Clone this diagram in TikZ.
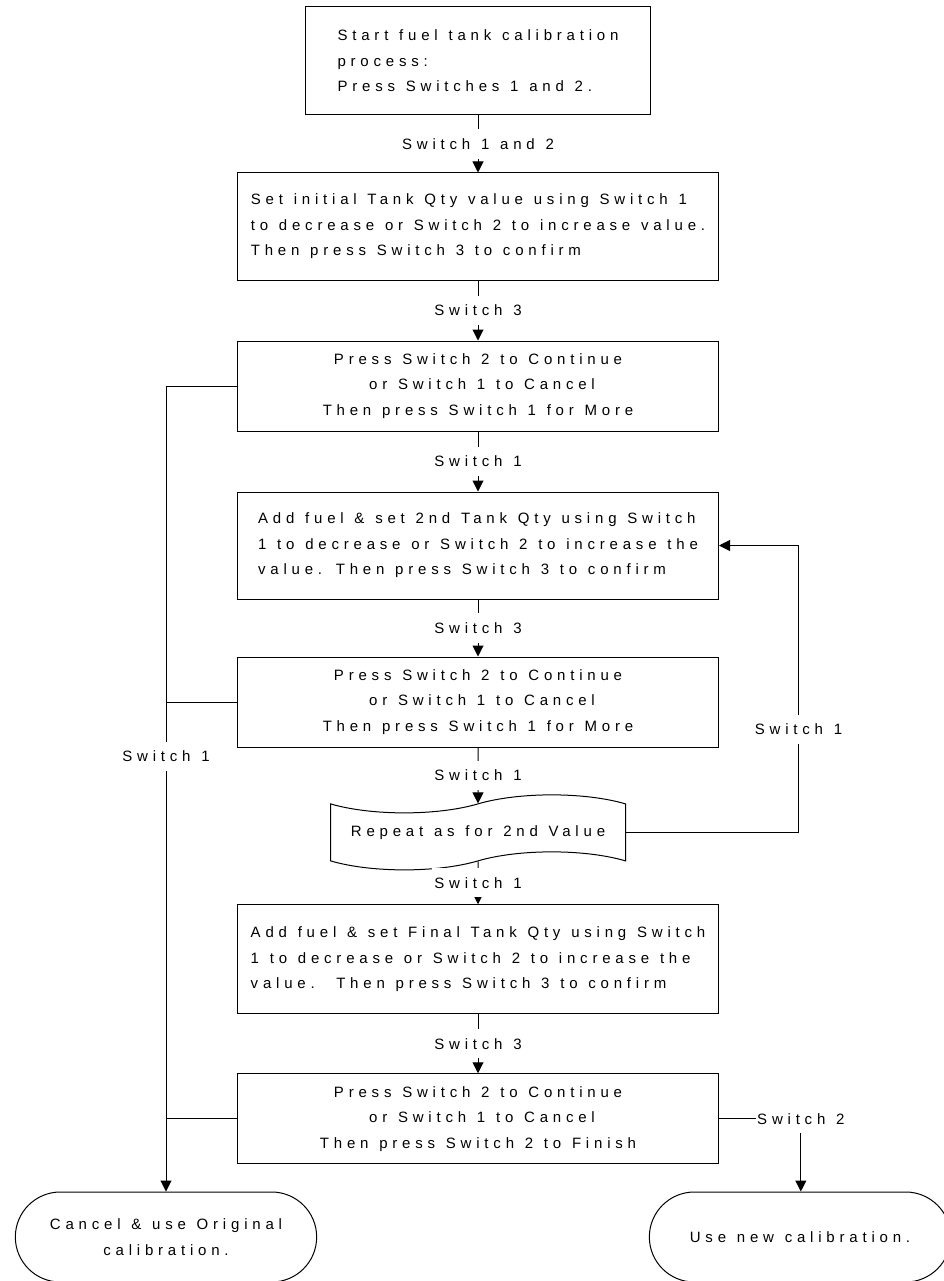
\documentclass[tikz,border=0pt]{standalone}
\usepackage{fontspec}
\setmainfont{Liberation Sans}[LetterSpace=32, WordSpace=1.2]
\usepackage{tikz}
\usetikzlibrary{positioning}
\usetikzlibrary{arrows.meta}
\usetikzlibrary{shapes.symbols}
\usetikzlibrary{shapes.misc}
\tikzset{	>={Triangle[width=11pt,length=11pt]},
	every node/.style={
		font=\fontsize{15pt}{25.5pt}\selectfont},
	procbox/.style={
		draw,
		line width=1pt,
		minimum width=481pt,
		inner sep=0pt,
		align=left},
	pressbox/.style={
		procbox,
		align=center,
		minimum height=90pt},
	repbox/.style={
		draw,
		tape,
		line width=1pt,
		minimum width=295pt,
		minimum height=75pt,
		tape bend height=18pt},
	term/.style={
		draw,
		rounded rectangle,
		line width=1pt,
		minimum width=308pt,
		minimum height=90pt,
		align=center},
	lbl/.style={
		fill=white,
		inner xsep=2pt,
		inner ysep=9pt},
	every edge/.style={
		draw,
		->,
		line width=1pt}
}

\begin{document}
\begin{tikzpicture}[x=1pt, y=-1pt]
				\useasboundingbox (0,0) rectangle (943,1281);
				\node[procbox, minimum width=345pt, minimum height=108pt] (b1) at (478,61) {Start fuel tank calibration\\process:\\Press Switches 1 and 2.};
				\node[procbox, minimum height=107pt, below=57pt of b1] (b2) {Set initial Tank Qty value using Switch 1\\to decrease or Switch 2 to increase value.\\Then press Switch 3 to confirm};
				\node[pressbox, below=60pt of b2] (b3) {Press Switch 2 to Continue\\\hspace*{8pt}or Switch 1 to Cancel\\Then press Switch 1 for More};
				\node[procbox, minimum height=107pt, below=60pt of b3] (b4) {Add fuel \& set 2nd Tank Qty using Switch\\1 to decrease or Switch 2 to increase the\\value. Then press Switch 3 to confirm};
				\node[pressbox, below=57pt of b4] (b5) {Press Switch 2 to Continue\\\hspace*{8pt}or Switch 1 to Cancel\\Then press Switch 1 for More};
				\node[repbox, below=56pt of b5] (rep) {Repeat as for 2nd Value};
				\node[procbox, minimum height=109pt, below=43pt of rep] (b6) {Add fuel \& set Final Tank Qty using Switch\\1 to decrease or Switch 2 to increase the\\value.\ \ Then press Switch 3 to confirm};
				\node[pressbox, below=59pt of b6] (b7) {Press Switch 2 to Continue\\\hspace*{8pt}or Switch 1 to Cancel\\Then press Switch 2 to Finish};
				\node[term] (cancel) at (166,1237) {Cancel \& use Original\\calibration.};
				\node[term] (newcal) at (800,1237) {Use new calibration.};
				\node[lbl, inner xsep=1pt, right=37pt of b7] (sw2) {Switch 2};
				\draw (b1) edge node[lbl] {Switch 1 and 2} (b2);
				\draw (b2) edge node[lbl] {Switch 3} (b3);
				\draw (b3) edge node[lbl] {Switch 1} (b4);
				\draw (b4) edge node[lbl] {Switch 3} (b5);
				\draw (b5) edge node[lbl] {Switch 1} (rep);
				\draw (rep) edge node[lbl] {Switch 1} (b6);
				\draw (b6) edge node[lbl] {Switch 3} (b7);
				\draw[->, line width=1pt] (b3.west) -| node[lbl, pos=0.73] {Switch 1} (cancel.north);
				\draw[line width=1pt] (b5.west) -- (b5.west -| cancel.north);
				\draw[line width=1pt] (b7.west) -- (b7.west -| cancel.north);
				\draw[->, line width=1pt] (rep.east) -- ++(172.5,0) |- node[lbl, pos=0.18] {Switch 1} (b4.east);
				\draw[line width=1pt] (b7.east) -- (sw2.west);
				\draw[->, line width=1pt] (sw2.south) -- (sw2.south |- newcal.north);
			\end{tikzpicture}
\end{document}
